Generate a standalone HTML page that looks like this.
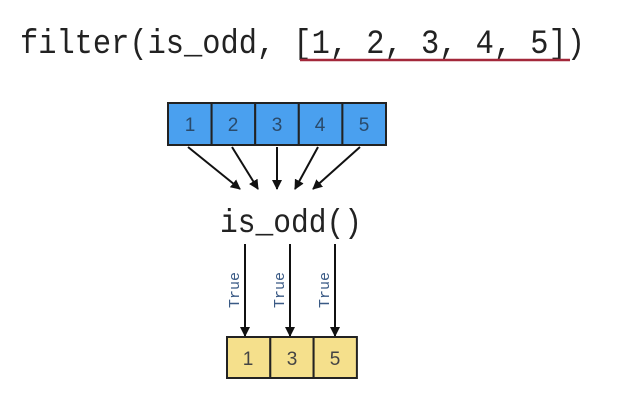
<!DOCTYPE html>
<html><head><style>
body{margin:0;background:#fff;width:640px;height:411px;overflow:hidden}
</style></head><body>
<svg width="640" height="411" viewBox="0 0 640 411" xmlns="http://www.w3.org/2000/svg">
<defs><marker id="a" markerWidth="10" markerHeight="10" refX="9" refY="5" orient="auto" markerUnits="userSpaceOnUse" viewBox="0 0 10 10"><path d="M0,0 L10,5 L0,10 z" fill="#111"/></marker></defs>
<text x="20" y="53" font-family="Liberation Mono, monospace" font-size="34" fill="#222" textLength="565" lengthAdjust="spacingAndGlyphs">filter(is_odd, [1, 2, 3, 4, 5])</text>
<line x1="300" y1="60" x2="570" y2="60" stroke="#a3283a" stroke-width="2.5"/>
<g stroke="#222" stroke-width="2" fill="#4aa0ef">
<rect x="168" y="103" width="43.6" height="42"/><rect x="211.6" y="103" width="43.6" height="42"/><rect x="255.2" y="103" width="43.6" height="42"/><rect x="298.8" y="103" width="43.6" height="42"/><rect x="342.4" y="103" width="43.6" height="42"/>
</g>
<g font-family="Liberation Sans, sans-serif" font-size="19" fill="#2a4a6a" text-anchor="middle">
<text x="190" y="131">1</text><text x="233" y="131">2</text><text x="277" y="131">3</text><text x="320" y="131">4</text><text x="364" y="131">5</text>
</g>
<g stroke="#111" stroke-width="2" marker-end="url(#a)">
<line x1="188" y1="147" x2="240" y2="189"/>
<line x1="232" y1="147" x2="258" y2="189"/>
<line x1="277" y1="147" x2="277" y2="189"/>
<line x1="318" y1="147" x2="295" y2="189"/>
<line x1="360" y1="147" x2="313" y2="189"/>
</g>
<text x="220" y="232" font-family="Liberation Mono, monospace" font-size="33" fill="#222" textLength="142" lengthAdjust="spacingAndGlyphs">is_odd()</text>
<g stroke="#111" stroke-width="2" marker-end="url(#a)">
<line x1="245" y1="244" x2="245" y2="336"/>
<line x1="290" y1="244" x2="290" y2="336"/>
<line x1="335" y1="244" x2="335" y2="336"/>
</g>
<g font-family="Liberation Mono, monospace" font-size="15" fill="#3a5a85" text-anchor="middle">
<text transform="translate(239,290) rotate(-90)">True</text>
<text transform="translate(284,290) rotate(-90)">True</text>
<text transform="translate(329,290) rotate(-90)">True</text>
</g>
<g stroke="#222" stroke-width="2" fill="#f5e08c">
<rect x="227" y="337" width="43.3" height="41"/><rect x="270.3" y="337" width="43.3" height="41"/><rect x="313.6" y="337" width="43.3" height="41"/>
</g>
<g font-family="Liberation Sans, sans-serif" font-size="19" fill="#444" text-anchor="middle">
<text x="248" y="365">1</text><text x="292" y="365">3</text><text x="335" y="365">5</text>
</g>
</svg>
</body></html>
